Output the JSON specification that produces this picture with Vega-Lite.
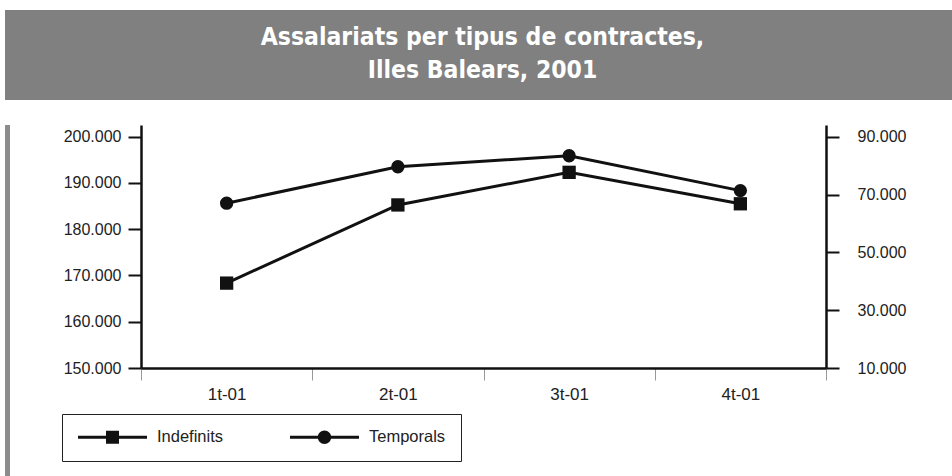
{
  "$schema": "https://vega.github.io/schema/vega-lite/v6.json",
  "padding": {"left": 5, "top": 10, "right": 0, "bottom": 0},
  "background": "white",
  "spacing": 0,
  "config": {"view": {"stroke": null}, "font": "Liberation Sans"},
  "datasets": {
    "serie": [
      {"q": "1t-01", "serie": "Indefinits", "v": 168350},
      {"q": "2t-01", "serie": "Indefinits", "v": 185250},
      {"q": "3t-01", "serie": "Indefinits", "v": 192300},
      {"q": "4t-01", "serie": "Indefinits", "v": 185500},
      {"q": "1t-01", "serie": "Temporals", "v": 67000},
      {"q": "2t-01", "serie": "Temporals", "v": 79600},
      {"q": "3t-01", "serie": "Temporals", "v": 83400},
      {"q": "4t-01", "serie": "Temporals", "v": 71350}
    ],
    "titol": [{"t": "Assalariats per tipus de contractes,\nIlles Balears, 2001"}],
    "buit": []
  },
  "vconcat": [
    {
      "width": 947,
      "height": 90,
      "view": {"fill": "#808080", "stroke": null},
      "data": {"name": "titol"},
      "mark": {"type": "text", "lineBreak": "\n", "color": "white", "font": "DejaVu Sans Condensed, Liberation Sans Narrow, Liberation Sans", "fontWeight": "bold", "fontSize": 24.5, "lineHeight": 33, "align": "center", "baseline": "middle", "dy": -17, "dx": 4},
      "encoding": {"text": {"field": "t", "type": "nominal"}}
    },
    {
      "spacing": 53,
      "hconcat": [
        {
          "width": 5,
          "height": 376,
          "view": {"fill": "#8c8c8c", "stroke": null},
          "data": {"name": "buit"},
          "mark": "rect",
          "encoding": {}
        },
        {
          "width": 685,
          "height": 243,
          "title": {"text": " ", "fontSize": 10, "offset": 15},
          "data": {"name": "serie"},
          "encoding": {
            "x": {
              "field": "q", "type": "ordinal",
              "scale": {"type": "band", "paddingInner": 0, "paddingOuter": 0},
              "axis": {"title": null, "labelAngle": 0, "tickBand": "extent", "domainColor": "#111", "domainWidth": 2.5, "tickColor": "#999", "tickSize": 12, "tickWidth": 1, "labelFontSize": 17, "labelColor": "#222", "labelPadding": 6, "grid": false}
            }
          },
          "layer": [
            {
              "transform": [{"filter": "datum.serie === 'Indefinits'"}],
              "encoding": {
                "y": {
                  "field": "v", "type": "quantitative",
                  "scale": {"domain": [150000, 202530], "nice": false, "zero": false},
                  "axis": {"orient": "left", "title": null, "values": [150000, 160000, 170000, 180000, 190000, 200000], "labelExpr": "replace(format(datum.value, ','), ',', '.')", "domainColor": "#111", "domainWidth": 2.5, "tickColor": "#111", "tickWidth": 2, "tickSize": 13, "labelPadding": 7, "labelFontSize": 16, "labelColor": "#222", "grid": false}
                }
              },
              "layer": [
                {"mark": {"type": "line", "color": "#111", "strokeWidth": 3}},
                {"mark": {"type": "point", "filled": true, "shape": "square", "size": 177, "color": "#111", "opacity": 1}},
                {
                  "transform": [{"filter": "false"}],
                  "mark": {"type": "point", "filled": true, "color": "#111", "opacity": 1},
                  "encoding": {
                    "shape": {
                      "field": "serie", "type": "nominal",
                      "scale": {"domain": ["Indefinits", "Temporals"], "range": ["M-1,-0.0435H1V0.0435H-1ZM-0.188,-0.188H0.188V0.188H-0.188Z", "M-1,-0.0435H1V0.0435H-1ZM0.195,0A0.195,0.195,0,1,1,-0.195,0A0.195,0.195,0,1,1,0.195,0Z"]},
                      "legend": {
                        "title": null, "orient": "none", "legendX": 57, "legendY": 404,
                        "direction": "horizontal", "columns": 2,
                        "symbolSize": 4761, "symbolFillColor": "#111",
                        "clipHeight": 16,
                        "padding": 15, "columnPadding": 65, "labelOffset": 9,
                        "labelFontSize": 16.5, "labelColor": "#222", "strokeColor": "#222"
                      }
                    }
                  }
                }
              ]
            },
            {
              "transform": [{"filter": "datum.serie === 'Temporals'"}],
              "encoding": {
                "y": {
                  "field": "v", "type": "quantitative",
                  "scale": {"domain": [10000, 94040], "nice": false, "zero": false},
                  "axis": {"orient": "right", "title": null, "values": [10000, 30000, 50000, 70000, 90000], "labelExpr": "replace(format(datum.value, ','), ',', '.')", "domainColor": "#111", "domainWidth": 2.5, "tickColor": "#111", "tickWidth": 2, "tickSize": 13, "labelPadding": 18, "labelFontSize": 16, "labelColor": "#222", "grid": false}
                }
              },
              "layer": [
                {"mark": {"type": "line", "color": "#111", "strokeWidth": 3}},
                {"mark": {"type": "point", "filled": true, "shape": "circle", "size": 177, "color": "#111", "opacity": 1}}
              ]
            }
          ],
          "resolve": {"scale": {"y": "independent"}}
        }
      ]
    }
  ]
}
